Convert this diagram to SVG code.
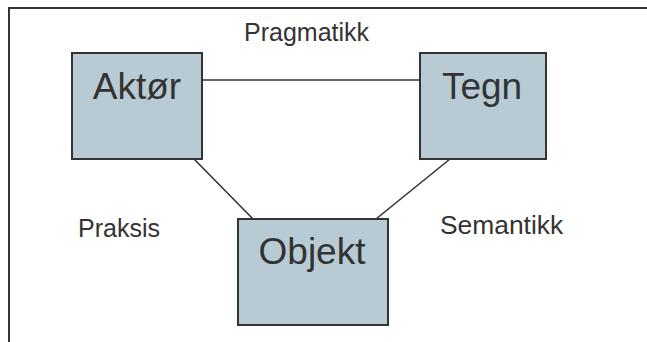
<svg xmlns="http://www.w3.org/2000/svg" width="647" height="342" viewBox="0 0 647 342">
<style>
.box{fill:#b8cbd4;stroke:#333;stroke-width:2}
.lbl{font-family:"Liberation Sans",Arial,sans-serif;fill:#333}
.big{font-size:37px;text-anchor:middle}
.sm{font-size:25px}
.conn{stroke:#333;stroke-width:1.6;fill:none}
</style>
<rect width="647" height="342" fill="#fff"/>
<rect x="9" y="8" width="700" height="400" fill="none" stroke="#333" stroke-width="2"/>
<g id="connectors">
<line class="conn" x1="202" y1="80" x2="420" y2="80"/>
<line class="conn" x1="194" y1="159" x2="253" y2="219"/>
<line class="conn" x1="450" y1="159" x2="376" y2="219"/>
</g>
<g id="aktor">
<rect class="box" x="72" y="53" width="130" height="106"/>
<text class="lbl big" x="137" y="99">Aktør</text>
</g>
<g id="tegn">
<rect class="box" x="420" y="53" width="126" height="106"/>
<text class="lbl big" x="482" y="99">Tegn</text>
</g>
<g id="objekt">
<rect class="box" x="238" y="219" width="150" height="106"/>
<text class="lbl big" x="312" y="264">Objekt</text>
</g>
<g id="labels">
<text class="lbl sm" x="244" y="41">Pragmatikk</text>
<text class="lbl sm" x="78" y="237">Praksis</text>
<text class="lbl sm" x="440" y="234" style="font-size:26.4px">Semantikk</text>
</g>
</svg>
